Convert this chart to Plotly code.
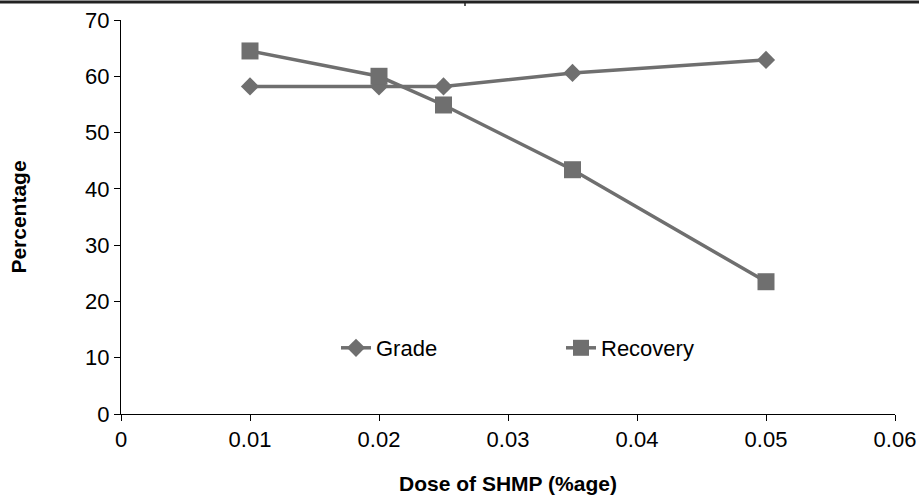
import plotly.graph_objects as go

dose = [0.01, 0.02, 0.025, 0.035, 0.05]
grade = [58.2, 58.2, 58.2, 60.6, 62.9]
recovery = [64.5, 60.0, 54.9, 43.4, 23.5]

x_ticks = [0, 0.01, 0.02, 0.03, 0.04, 0.05, 0.06]
x_tick_labels = ["0", "0.01", "0.02", "0.03", "0.04", "0.05", "0.06"]
y_ticks = [0, 10, 20, 30, 40, 50, 60, 70]

gray = "#6f6f6f"
font_family = "Liberation Sans, Arial, sans-serif"

fig = go.Figure()
fig.add_trace(go.Scatter(
    x=dose, y=grade, name="Grade", mode="lines+markers",
    line=dict(color=gray, width=3.5),
    marker=dict(symbol="diamond", size=14, color=gray),
))
fig.add_trace(go.Scatter(
    x=dose, y=recovery, name="Recovery", mode="lines+markers",
    line=dict(color=gray, width=3.5),
    marker=dict(symbol="square", size=17, color=gray),
))

fig.update_layout(
    width=919, height=497,
    margin=dict(l=121, r=24, t=20, b=83, autoexpand=False),
    paper_bgcolor="white", plot_bgcolor="white",
    font=dict(family=font_family, size=22, color="black"),
    showlegend=True,
    legend=dict(
        orientation="h", x=(336 - 121) / 774, y=(414 - 348) / 394,
        xanchor="left", yanchor="middle",
        font=dict(size=22, color="black"), bgcolor="rgba(0,0,0,0)",
        entrywidth=180, entrywidthmode="pixels", tracegroupgap=0,
    ),
    xaxis=dict(
        range=[0, 0.06], tickvals=x_ticks, ticktext=x_tick_labels,
        showline=True, linecolor="black", linewidth=1,
        ticks="outside", ticklen=6, tickcolor="black",
        showgrid=False, zeroline=False, automargin=False,
        title=dict(text="<b>Dose of SHMP (%age)</b>", font=dict(size=21), standoff=24),
    ),
    yaxis=dict(
        range=[0, 70], tickvals=y_ticks,
        showline=True, linecolor="black", linewidth=1,
        ticks="outside", ticklen=6, tickcolor="black",
        showgrid=False, zeroline=False, automargin=False,
        title=dict(text="<b>Percentage</b>", font=dict(size=21), standoff=52),
    ),
)

# top border artifact from the source image
fig.add_shape(type="line", xref="paper", yref="paper", x0=-0.2, x1=1.1,
              y0=1.0 + 18 / 394, y1=1.0 + 18 / 394, line=dict(color="#222222", width=3))
fig.add_shape(type="line", xref="paper", yref="paper", x0=(465 - 121) / 774, x1=(465 - 121) / 774,
              y0=1.0 + 18 / 394, y1=1.0 + 14 / 394, line=dict(color="#222222", width=1.5))

fig.write_html("out.html")
